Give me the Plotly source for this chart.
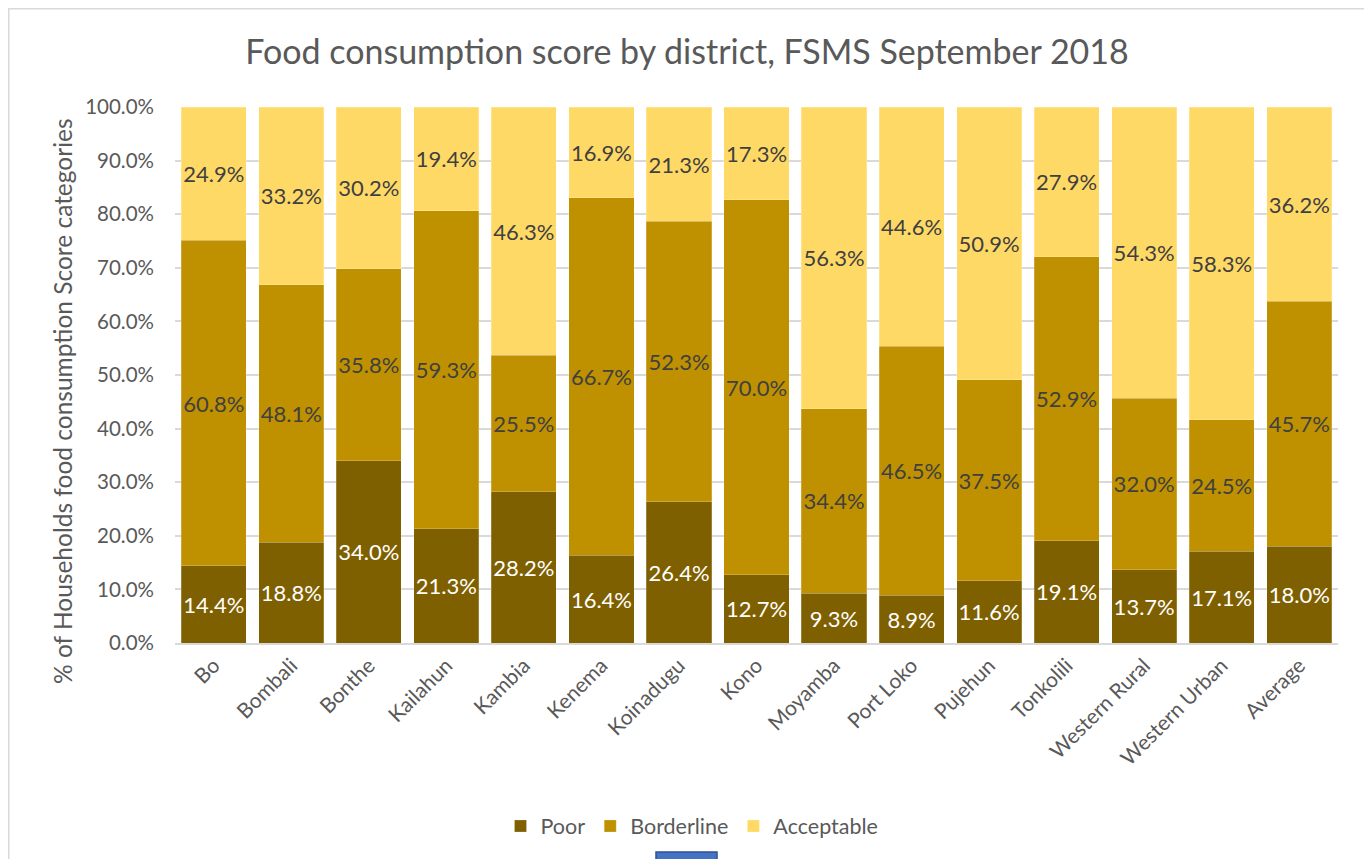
import plotly.graph_objects as go

districts = ["Bo", "Bombali", "Bonthe", "Kailahun", "Kambia", "Kenema", "Koinadugu",
             "Kono", "Moyamba", "Port Loko", "Pujehun", "Tonkolili", "Western Rural",
             "Western Urban", "Average"]
poor = [14.4, 18.8, 34.0, 21.3, 28.2, 16.4, 26.4, 12.7, 9.3, 8.9, 11.6, 19.1, 13.7, 17.1, 18.0]
borderline = [60.8, 48.1, 35.8, 59.3, 25.5, 66.7, 52.3, 70.0, 34.4, 46.5, 37.5, 52.9, 32.0, 24.5, 45.7]
acceptable = [24.9, 33.2, 30.2, 19.4, 46.3, 16.9, 21.3, 17.3, 56.3, 44.6, 50.9, 27.9, 54.3, 58.3, 36.2]
y_ticks = [0, 10, 20, 30, 40, 50, 60, 70, 80, 90, 100]
y_ticktext = [f"{v:.1f}%" for v in y_ticks]

FONT = "Lato"
GREY = "#595959"

series = [
    ("Poor", poor, "#7F6000", "white"),
    ("Borderline", borderline, "#BF9000", "#404040"),
    ("Acceptable", acceptable, "#FFD966", "#404040"),
]

fig = go.Figure()
for name, vals, color, tcolor in series:
    fig.add_trace(go.Bar(
        name=name, x=districts, y=vals,
        marker=dict(color=color, line=dict(color="rgba(255,255,255,0.35)", width=0.6)),
        text=[f"{v:.1f}%" for v in vals],
        texttemplate="%{text}",
        textposition="inside",
        insidetextanchor="middle",
        textangle=0,
        constraintext="none",
        textfont=dict(family=FONT, size=22, color=tcolor),
        hoverinfo="skip",
    ))

# figure is placed 8px from page top-left (body margin)
OFF = 8
W, H = 1372 - OFF, 859 - OFF
L, T = 175 - OFF, 107 - OFF
R = W - (1338 - OFF)
B = H - (643 - OFF)
pw, ph = W - L - R, H - T - B


def px(xp):  # page x -> paper x
    return (xp - OFF - L) / pw


def py(yp):  # page y -> paper y
    return (H - B - (yp - OFF)) / ph


fig.update_layout(
    width=W, height=H,
    barmode="stack", barnorm="percent", bargap=0.16,
    margin=dict(l=L, r=R, t=T, b=B, autoexpand=False),
    paper_bgcolor="white", plot_bgcolor="white",
    font=dict(family=FONT, color=GREY),
    uniformtext=dict(minsize=22, mode="show"),
    title=dict(text="Food consumption score by district, FSMS September 2018",
               x=(687 - OFF) / W, xanchor="center", y=1 - (52 - OFF) / H, yanchor="middle",
               font=dict(family=FONT, size=34, color=GREY)),
    legend=dict(orientation="h", x=px(692), xanchor="center",
                y=py(826), yanchor="middle",
                font=dict(family=FONT, size=21.5, color=GREY),
                traceorder="normal"),
    xaxis=dict(tickangle=-45, tickfont=dict(family=FONT, size=21, color=GREY),
               showline=True, linecolor="#D9D9D9", linewidth=2, ticks="",
               showgrid=False),
    yaxis=dict(range=[0, 100], tickmode="array", tickvals=y_ticks, ticktext=y_ticktext,
               tickfont=dict(family=FONT, size=20.5, color=GREY),
               ticklabelstandoff=20,
               showgrid=True, gridcolor="#D9D9D9", gridwidth=1.5,
               zeroline=False, showline=False, ticks="", ticklen=0),
    annotations=[
        dict(text="% of Households food consumption Score categories",
             xref="paper", yref="paper", x=px(62), y=py(401),
             xanchor="center", yanchor="middle", textangle=-90, showarrow=False,
             font=dict(family=FONT, size=24.5, color=GREY)),
    ],
    shapes=[
        dict(type="rect", xref="paper", yref="paper",
             x0=px(8.5), x1=px(1367),
             y0=py(880), y1=py(8.5),
             line=dict(color="#D9D9D9", width=2), fillcolor="rgba(0,0,0,0)", layer="below"),
        dict(type="rect", xref="paper", yref="paper",
             x0=px(656), x1=px(717),
             y0=py(870), y1=py(852),
             line=dict(color="#2F528F", width=1.5), fillcolor="#4472C4", layer="above"),
    ],
)

fig.write_html("out.html")
